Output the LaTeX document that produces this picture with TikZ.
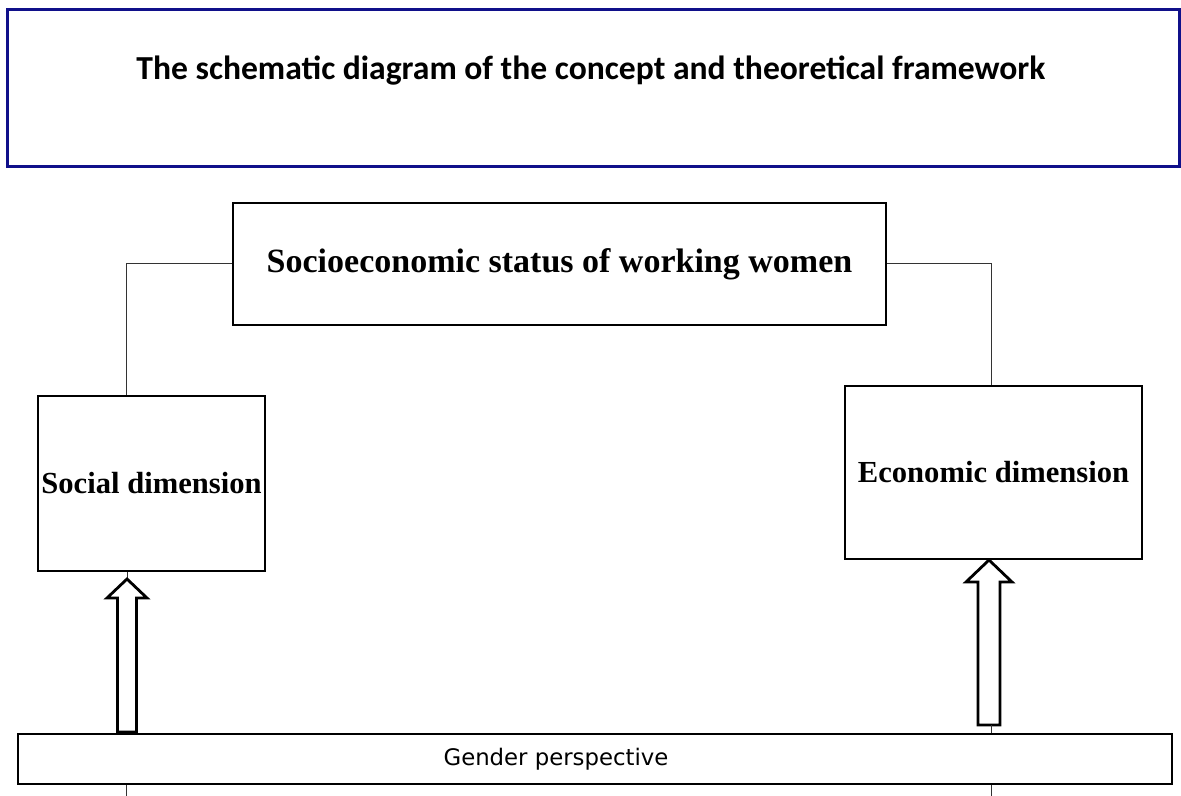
\documentclass[tikz,border=0pt]{standalone}
\usepackage{fontspec}
\setmainfont{Liberation Serif}
\newfontfamily\headfont{Carlito}
\newfontfamily\perspfont{DejaVu Sans}
\usepackage{tikz}
\usetikzlibrary{positioning, calc}
\definecolor{frameNavy}{HTML}{10108A}
\definecolor{linkGray}{HTML}{333333}

\begin{document}
\begin{tikzpicture}[
    x=0.5pt, y=-0.5pt,
    headframe/.style={
        draw=frameNavy, line width=1.5pt, inner sep=0pt,
        minimum width=586pt, minimum height=78.5pt
    },
    headtext/.style={
        font=\headfont\fontsize{16.8}{19}\selectfont\bfseries,
        inner sep=0pt
    },
    statusbox/.style={
        draw, line width=1.4pt, inner sep=0pt,
        font=\fontsize{17}{20}\selectfont\bfseries
    },
    dimbox/.style={
        draw, line width=1.4pt, inner sep=0pt,
        font=\fontsize{15.3}{18}\selectfont\bfseries
    },
    perspbox/.style={
        draw, line width=1.4pt, inner sep=0pt,
        font=\perspfont\fontsize{11.4}{13}\selectfont
    },
    link/.style={draw=linkGray, line width=0.5pt},
    hollowup/.style={draw, fill=white, line width=1.4pt, line join=miter},
]
\useasboundingbox (0,0) rectangle (1181,796);

%% =================================================================
%% Title frame (top)
%% =================================================================
\node[headframe] (frame) at (593,88.5) {};
\node[headtext, anchor=base] (title) at (591,80)
    {The schematic diagram of the concept and theoretical framework};

%% =================================================================
%% Central concept
%% =================================================================
\node[statusbox, minimum width=326.5pt, minimum height=61pt] (status)
    at (559.5,264)
    {Socioeconomic status of working women};

%% =================================================================
%% Two dimensions
%% =================================================================
\node[dimbox, minimum width=113.5pt, minimum height=87.5pt] (social)
    at (151.5,483.5)
    {Social dimension};

\node[dimbox, minimum width=148.5pt, minimum height=86.5pt] (econ)
    at (993.5,472.5)
    {Economic dimension};

%% Concept -> dimensions
\draw[link] (status.west) -| ([xshift=-12.75pt]social.north);
\draw[link] (status.east) -| ([xshift=-1.25pt]econ.north);

%% =================================================================
%% Gender perspective strip (bottom)
%% =================================================================
\node[perspbox, minimum width=577pt, minimum height=25pt] (gender)
    at (595,759)
    {Gender perspective\kern39pt};

%% Hollow arrows: perspective -> dimensions
\coordinate (stip) at (127,579);
\coordinate (etip) at (989,560);
\coordinate (ebase) at (991,725);
\coordinate (sdrop) at (126,796);
\coordinate (edrop) at (991,796);

\draw[link] (stip |- social.south) -- (stip);
\draw[hollowup] (stip) -- ++(20,19) -- ++(-10.5,0) -- ++(0,134)
    -- ++(-19,0) -- ++(0,-134) -- ++(-10.5,0) -- cycle;

\draw[hollowup] (etip) -- ++(23,22) -- ++(-12,0) -- ++(0,143)
    -- ++(-22,0) -- ++(0,-143) -- ++(-12,0) -- cycle;
\draw[link] (ebase) -- (ebase |- gender.north);

%% Lines below the strip
\draw[link] (sdrop |- gender.south) -- (sdrop);
\draw[link] (edrop |- gender.south) -- (edrop);

\end{tikzpicture}
\end{document}
